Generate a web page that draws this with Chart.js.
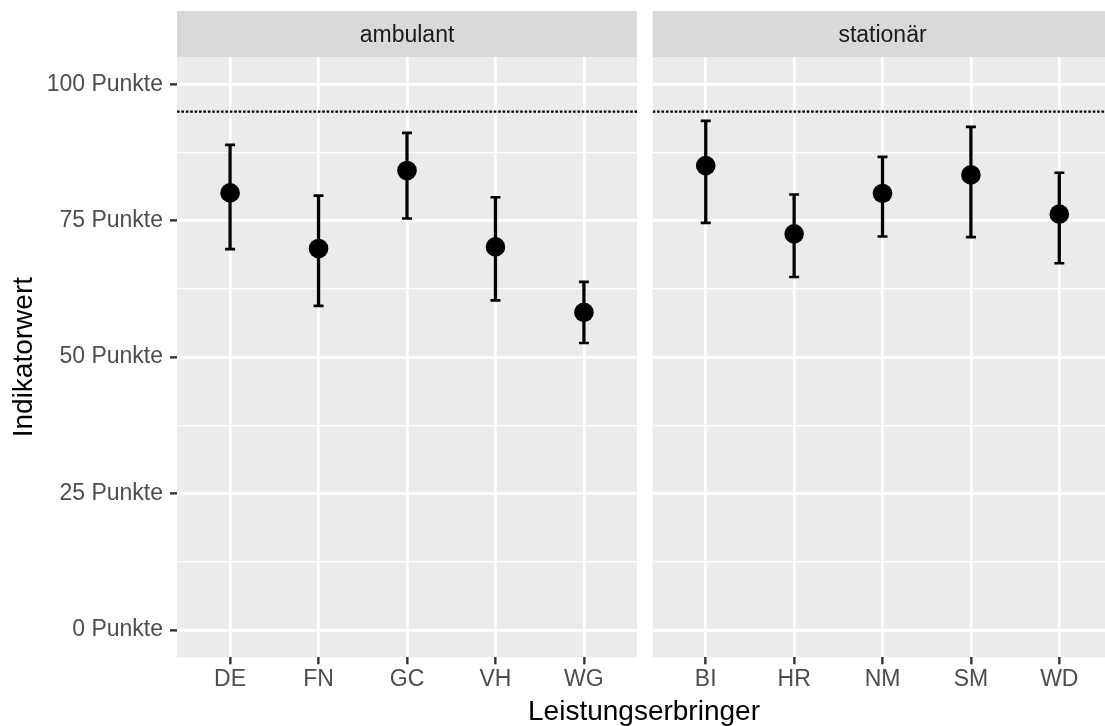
<!DOCTYPE html>
<html>
<head>
<meta charset="utf-8">
<script src="https://cdn.jsdelivr.net/npm/chart.js@4.4.1/dist/chart.umd.min.js"></script>
<style>
  body { margin: 0; background: #fff; }
  #wrap { position: relative; width: 1105px; height: 726px; }
  .panel { position: absolute; left: 0; top: 0; width: 1105px; height: 726px; }
</style>
</head>
<body>
<div id="wrap">
  <div class="panel"><canvas id="chartAmbulant"></canvas></div>
  <div class="panel"><canvas id="chartStationaer"></canvas></div>
</div>
<script>
// facet titles
var facetNames = ["ambulant", "stationär"];

// ambulant
var ambulantCats = ["DE", "FN", "GC", "VH", "WG"];
var ambulantWert = [80.1, 69.9, 84.2, 70.2, 58.2];
var ambulantUnten = [69.8, 59.4, 75.4, 60.4, 52.6];
var ambulantOben = [88.9, 79.6, 91.1, 79.3, 63.8];

// stationär
var stationaerCats = ["BI", "HR", "NM", "SM", "WD"];
var stationaerWert = [85.1, 72.6, 80.0, 83.4, 76.2];
var stationaerUnten = [74.6, 64.7, 72.1, 72.0, 67.2];
var stationaerOben = [93.3, 79.8, 86.7, 92.2, 83.8];

var zielwert = 95;
var yMajorTicks = [0, 25, 50, 75, 100];
var yMinorTicks = [12.5, 37.5, 62.5, 87.5];

var FONT = "'Liberation Sans', Arial, sans-serif";

// panel background + strip on top, shared x title
var facetPlugin = {
    id: "facet",
    beforeDraw: function(chart, args, opts) {
        var ctx = chart.ctx, a = chart.chartArea;
        ctx.save();
        ctx.fillStyle = "#EBEBEB";
        ctx.fillRect(a.left, a.top, a.right - a.left, a.bottom - a.top);
        ctx.fillStyle = "#D9D9D9";
        ctx.fillRect(a.left, 11, a.right - a.left, a.top - 11);
        ctx.fillStyle = "#1A1A1A";
        ctx.font = "23px " + FONT;
        ctx.textAlign = "center";
        ctx.textBaseline = "alphabetic";
        // strip label is centred on the full facet width (right one is cut off by the image edge)
        var cx = opts.stripCenter != null ? opts.stripCenter : (a.left + a.right) / 2;
        ctx.fillText(opts.label, cx, 41.7);
        ctx.restore();
    },
    afterDraw: function(chart, args, opts) {
        if (!opts.xTitle) return;
        var ctx = chart.ctx;
        ctx.save();
        ctx.fillStyle = "#000";
        ctx.font = "28px " + FONT;
        ctx.textAlign = "center";
        ctx.textBaseline = "alphabetic";
        ctx.fillText(opts.xTitle, 644, 720);
        ctx.restore();
    }
};

function makeDatasets(wert, unten, oben) {
    var pts = [], bars = [], caps = [];
    for (var i = 0; i < wert.length; i++) {
        pts.push({x: i, y: wert[i]});
        bars.push({x: i, y: [unten[i], oben[i]]});
        caps.push({x: i, y: unten[i]});
        caps.push({x: i, y: oben[i]});
    }
    return [
        {type: "scatter", data: pts, pointRadius: 9.8, backgroundColor: "#000", borderWidth: 0, order: 0},
        {type: "scatter", data: caps, pointStyle: "line", pointRadius: 5, borderColor: "#000", borderWidth: 2.6, order: 1},
        {type: "bar", data: bars, backgroundColor: "#000", barThickness: 2.6, order: 2},
        {type: "line", data: [{x: -0.6, y: zielwert}, {x: 4.6, y: zielwert}], borderColor: "#000",
         borderWidth: 2.2, borderDash: [2.6, 1.8], pointRadius: 0, order: 3}
    ];
}

function makeChart(id, cats, wert, unten, oben, facet, left) {
    var yTicksAll = yMajorTicks.concat(yMinorTicks);
    return new Chart(document.getElementById(id), {
        type: "scatter",
        data: {datasets: makeDatasets(wert, unten, oben)},
        plugins: [facetPlugin],
        options: {
            responsive: true,
            maintainAspectRatio: false,
            animation: false,
            events: [],
            layout: {
                autoPadding: false,
                padding: left ? {left: 0, right: 468, top: 57, bottom: 0} : {left: 652.7, right: 0, top: 57, bottom: 0}
            },
            plugins: {
                legend: {display: false},
                tooltip: {enabled: false},
                facet: {label: facet, xTitle: left ? "Leistungserbringer" : null, stripCenter: left ? null : 882.5}
            },
            scales: {
                x: {
                    type: "linear",
                    min: -0.6,
                    max: left ? 4.6 : 4.517,
                    offset: false,
                    afterBuildTicks: function(s) {
                        s.ticks = cats.map(function(c, i) { return {value: i}; });
                    },
                    afterFit: function(s) {
                        s.height = 68.7;
                        s.paddingLeft = 0;
                        s.paddingRight = 0;
                    },
                    border: {display: false},
                    grid: {
                        offset: false,
                        color: "#FFFFFF",
                        lineWidth: 2.7,
                        drawTicks: true,
                        tickLength: 7,
                        tickColor: "#333333",
                        tickWidth: 2.4
                    },
                    ticks: {
                        autoSkip: false,
                        maxRotation: 0,
                        padding: 2,
                        color: "#4D4D4D",
                        font: {family: FONT, size: 23},
                        callback: function(v) { return cats[v]; }
                    }
                },
                y: {
                    min: -5,
                    max: 105,
                    afterBuildTicks: function(s) {
                        s.ticks = yTicksAll.slice().sort(function(a, b) { return a - b; })
                            .map(function(v) { return {value: v}; });
                    },
                    afterFit: function(s) {
                        s.width = left ? 177 : 0;
                        s.paddingTop = 0;
                        s.paddingBottom = 0;
                    },
                    border: {display: false},
                    grid: {
                        color: "#FFFFFF",
                        lineWidth: function(c) { return c.tick && c.tick.value % 25 === 0 ? 2.7 : 1.35; },
                        drawTicks: left,
                        tickLength: 7,
                        tickColor: function(c) { return c.tick && c.tick.value % 25 === 0 ? "#333333" : "rgba(0,0,0,0)"; },
                        tickWidth: 2.4
                    },
                    ticks: {
                        display: left,
                        autoSkip: false,
                        padding: 7,
                        color: "#4D4D4D",
                        font: {family: FONT, size: 23},
                        callback: function(v) { return v % 25 === 0 ? v + " Punkte" : ""; }
                    },
                    title: {
                        display: left,
                        text: "Indikatorwert",
                        color: "#000",
                        font: {family: FONT, size: 28},
                        padding: {top: 7, bottom: 0}
                    }
                }
            }
        }
    });
}

makeChart("chartAmbulant", ambulantCats, ambulantWert, ambulantUnten, ambulantOben, facetNames[0], true);
makeChart("chartStationaer", stationaerCats, stationaerWert, stationaerUnten, stationaerOben, facetNames[1], false);
</script>
</body>
</html>
